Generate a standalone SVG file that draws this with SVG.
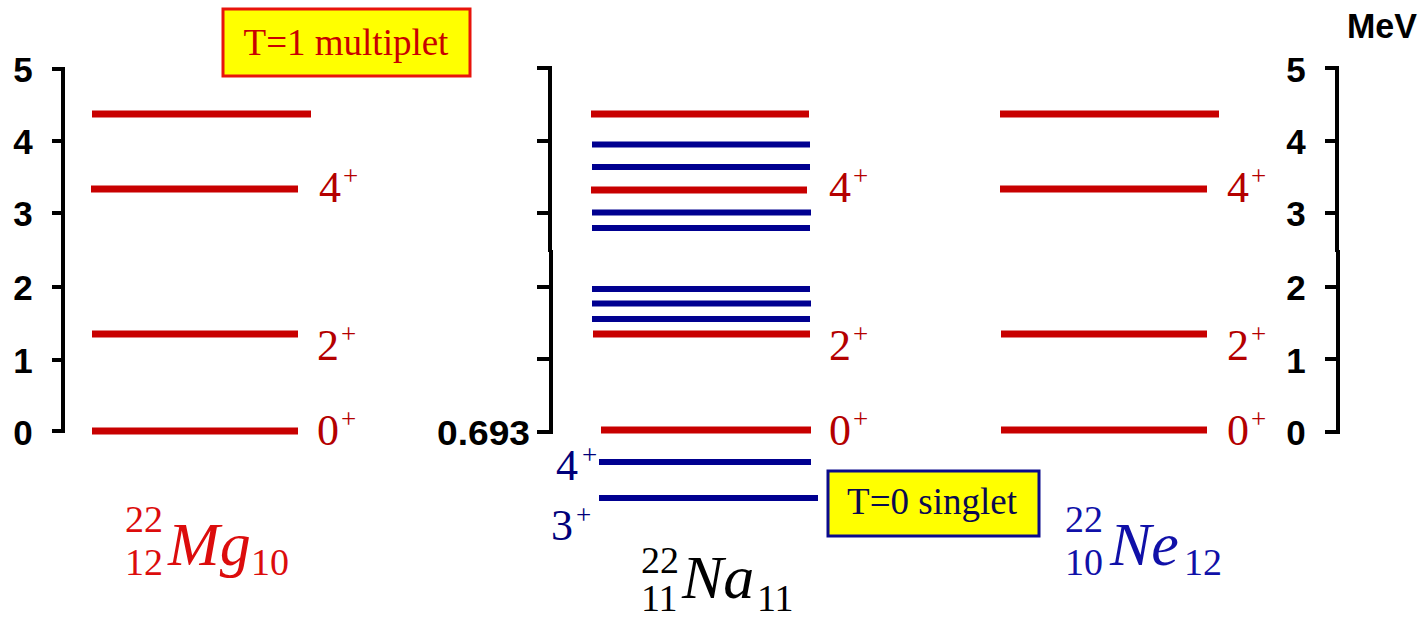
<svg xmlns="http://www.w3.org/2000/svg" width="1427" height="620" viewBox="0 0 1427 620">
<style>
.ax{stroke:#000;stroke-width:4;fill:none;stroke-linecap:butt}
.r{stroke:#c80000;stroke-width:7}
.b{stroke:#000090;stroke-width:6}
.num{font-family:"Liberation Sans",Arial,sans-serif;font-weight:bold;font-size:35px;fill:#000}
.lab{font-family:"Liberation Serif","Times New Roman",serif;font-size:44px}
.sup{font-size:27px}
.lr{fill:#b40000}
.lb{fill:#00007a}
.nuc{font-family:"Liberation Serif","Times New Roman",serif;font-size:38px}
.it{font-style:italic;font-size:62px}
.box{font-family:"Liberation Serif","Times New Roman",serif;font-size:37px}
</style>
<rect width="1427" height="620" fill="#fff"/>

<g id="axis-left">
<path class="ax" d="M63,67 V433 M52,69 H63 M52,141 H63 M52,213 H63 M52,287 H63 M52,360 H63 M52,431 H63"/>
<text class="num" x="23" y="82" text-anchor="middle">5</text>
<text class="num" x="23" y="154" text-anchor="middle">4</text>
<text class="num" x="23" y="226" text-anchor="middle">3</text>
<text class="num" x="23" y="300" text-anchor="middle">2</text>
<text class="num" x="23" y="373" text-anchor="middle">1</text>
<text class="num" x="23" y="445" text-anchor="middle">0</text>
</g>

<g id="axis-middle">
<path class="ax" d="M537,68 H550 V252 M551,250 V432 H537 M537,141 H550 M537,213 H550 M537,287 H551 M537,359 H551"/>
<text class="num" x="437" y="445" textLength="93" lengthAdjust="spacingAndGlyphs">0.693</text>
</g>

<g id="axis-right">
<path class="ax" d="M1325,68 H1337 V252 M1338,250 V432 H1325 M1325,141 H1337 M1325,213 H1337 M1325,287 H1338 M1325,359 H1338"/>
<text class="num" x="1296" y="82" text-anchor="middle">5</text>
<text class="num" x="1296" y="154" text-anchor="middle">4</text>
<text class="num" x="1296" y="226" text-anchor="middle">3</text>
<text class="num" x="1296" y="300" text-anchor="middle">2</text>
<text class="num" x="1296" y="373" text-anchor="middle">1</text>
<text class="num" x="1296" y="445" text-anchor="middle">0</text>
<text class="num" x="1347" y="38" textLength="70" lengthAdjust="spacingAndGlyphs">MeV</text>
</g>

<g id="mg22">
<line class="r" x1="92" y1="114" x2="311" y2="114"/>
<line class="r" x1="91" y1="189" x2="298" y2="189"/>
<line class="r" x1="92" y1="334" x2="298" y2="334"/>
<line class="r" x1="92" y1="431" x2="298" y2="431"/>
<text class="lab lr" x="319" y="202">4<tspan class="sup" x="343" y="185">+</tspan></text>
<text class="lab lr" x="317" y="360">2<tspan class="sup" x="341" y="343">+</tspan></text>
<text class="lab lr" x="317" y="445">0<tspan class="sup" x="341" y="428">+</tspan></text>
<text class="nuc" fill="#dc0c0c"><tspan x="125" y="532">22</tspan><tspan x="125" y="575">12</tspan><tspan class="it" x="168" y="565">Mg</tspan><tspan x="251" y="575">10</tspan></text>
</g>

<g id="na22">
<line class="r" x1="591" y1="114" x2="809" y2="114"/>
<line class="b" x1="592" y1="144.5" x2="810" y2="144.5"/>
<line class="b" x1="592" y1="167" x2="810" y2="167"/>
<line class="r" x1="591" y1="190" x2="807" y2="190"/>
<line class="b" x1="592" y1="212.5" x2="811" y2="212.5"/>
<line class="b" x1="592" y1="228" x2="810" y2="228"/>
<line class="b" x1="592" y1="289" x2="810" y2="289"/>
<line class="b" x1="592" y1="303.5" x2="811" y2="303.5"/>
<line class="b" x1="592" y1="319" x2="810" y2="319"/>
<line class="r" x1="593" y1="334" x2="810" y2="334"/>
<line class="r" x1="601" y1="430" x2="811" y2="430"/>
<line class="b" x1="599" y1="462" x2="811" y2="462"/>
<line class="b" x1="599" y1="498" x2="818" y2="498"/>
<text class="lab lr" x="829" y="202">4<tspan class="sup" x="853" y="185">+</tspan></text>
<text class="lab lr" x="829" y="360">2<tspan class="sup" x="853" y="343">+</tspan></text>
<text class="lab lr" x="829" y="445">0<tspan class="sup" x="853" y="428">+</tspan></text>
<text class="lab lb" x="556" y="480">4<tspan class="sup" x="582" y="464">+</tspan></text>
<text class="lab lb" x="551" y="540">3<tspan class="sup" x="576" y="524">+</tspan></text>
<text class="nuc" fill="#000"><tspan x="641" y="573">22</tspan><tspan x="641" y="611">11</tspan><tspan class="it" x="682" y="598">Na</tspan><tspan x="757" y="611">11</tspan></text>
</g>

<g id="ne22">
<line class="r" x1="1000" y1="114" x2="1219" y2="114"/>
<line class="r" x1="1000" y1="189" x2="1207" y2="189"/>
<line class="r" x1="1001" y1="334" x2="1207" y2="334"/>
<line class="r" x1="1001" y1="430" x2="1207" y2="430"/>
<text class="lab lr" x="1227" y="202">4<tspan class="sup" x="1251" y="185">+</tspan></text>
<text class="lab lr" x="1227" y="360">2<tspan class="sup" x="1251" y="343">+</tspan></text>
<text class="lab lr" x="1227" y="445">0<tspan class="sup" x="1251" y="428">+</tspan></text>
<text class="nuc" fill="#1010a8"><tspan x="1065" y="532">22</tspan><tspan x="1065" y="575">10</tspan><tspan class="it" x="1110" y="565">Ne</tspan><tspan x="1184" y="575">12</tspan></text>
</g>

<g id="box-t1">
<rect x="223" y="9" width="247" height="67" fill="#ffff00" stroke="#e8140c" stroke-width="3"/>
<text class="box" x="346" y="55" text-anchor="middle" fill="#c80000">T=1 multiplet</text>
</g>

<g id="box-t0">
<rect x="828" y="471" width="211" height="65" fill="#ffff00" stroke="#0a0a8c" stroke-width="3"/>
<text class="box" x="932" y="514" text-anchor="middle" fill="#0a0a50">T=0 singlet</text>
</g>
</svg>
